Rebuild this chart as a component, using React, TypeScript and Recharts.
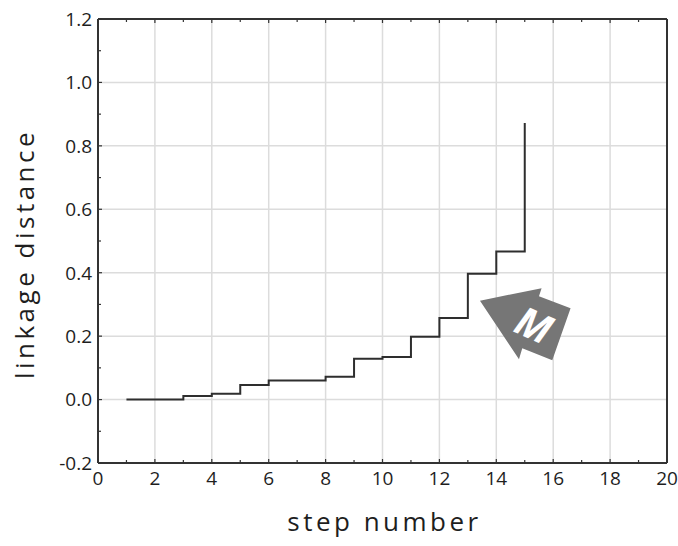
import { LineChart, Line, XAxis, YAxis, ReferenceLine, ReferenceDot } from 'recharts';

// step number vs. linkage distance
const steps = [1, 2, 3, 4, 5, 6, 7, 8, 9, 10, 11, 12, 13, 14, 15];
const distances = [0.0, 0.0, 0.011, 0.018, 0.046, 0.06, 0.06, 0.072, 0.129, 0.134, 0.198, 0.257, 0.397, 0.467, 0.872];

const xTicks = [0, 1, 2, 3, 4, 5, 6, 7, 8, 9, 10, 11, 12, 13, 14, 15, 16, 17, 18, 19, 20];
const xMajor = [0, 2, 4, 6, 8, 10, 12, 14, 16, 18, 20];
const yTicks = [-0.2, -0.1, 0, 0.1, 0.2, 0.3, 0.4, 0.5, 0.6, 0.7, 0.8, 0.9, 1.0, 1.1, 1.2];
const yMajor = [-0.2, 0, 0.2, 0.4, 0.6, 0.8, 1.0, 1.2];

const data = steps.map((s, i) => ({ step: s, dist: distances[i] }));

const FRAME = '#333333';
const GRID = '#dcdcdc';
const TEXT = '#1e1e1e';
const FONT = '"Open Sans", sans-serif';
const TS = 3; // tick size (offset only, ticks are drawn inward by hand)
const TM = 3;

const isMajorX = (v: number) => v % 2 === 0;
const isMajorY = (v: number) => Math.round(v * 10) % 2 === 0;

const LeftTick = (p: any) => {
  const v = p.payload.value;
  const ax = p.x + TS + TM;
  const major = isMajorY(v);
  return (
    <g>
      <line x1={ax} x2={ax + (major ? 4 : 3)} y1={p.y} y2={p.y} stroke={FRAME} strokeWidth={1.2} />
      {major && (
        <text x={p.x} y={p.y} dy="0.36em" textAnchor="end" fontSize={19} fontFamily={FONT} fill={TEXT}>
          {v.toFixed(1)}
        </text>
      )}
    </g>
  );
};

const RightTick = (p: any) => {
  const v = p.payload.value;
  const ax = p.x - TS - TM;
  return <line x1={ax} x2={ax - (isMajorY(v) ? 4 : 3)} y1={p.y} y2={p.y} stroke={FRAME} strokeWidth={1.2} />;
};

const BottomTick = (p: any) => {
  const v = p.payload.value;
  const ay = p.y - TS - TM;
  const major = isMajorX(v);
  return (
    <g>
      <line x1={p.x} x2={p.x} y1={ay} y2={ay - (major ? 4 : 3)} stroke={FRAME} strokeWidth={1.2} />
      {major && (
        <text x={p.x} y={p.y} dy="0.85em" textAnchor="middle" fontSize={19} fontFamily={FONT} fill={TEXT}>
          {v}
        </text>
      )}
    </g>
  );
};

const TopTick = (p: any) => {
  const v = p.payload.value;
  const ay = p.y + TS + TM;
  return <line x1={p.x} x2={p.x} y1={ay} y2={ay + (isMajorX(v) ? 4 : 3)} stroke={FRAME} strokeWidth={1.2} />;
};

// the grey "M" arrow badge
const MArrow = (p: any) => {
  const { cx, cy } = p;
  const pts = [
    [-59, -35.5], [2.6, -48], [0, -40], [31.6, -28], [13.3, 24], [-16.7, 12], [-20, 23],
  ].map(([dx, dy]) => `${cx + dx},${cy + dy}`).join(' ');
  const tx = cx - 5;
  const ty = cy - 11;
  return (
    <g>
      <polygon points={pts} fill="#767676" />
      <text
        x={tx}
        y={ty}
        dy="0.36em"
        textAnchor="middle"
        fontSize={40}
        fontStyle="italic"
        fontWeight="bold"
        fontFamily={FONT}
        fill="#ffffff"
        transform={`rotate(24 ${tx} ${ty})`}
      >
        M
      </text>
    </g>
  );
};

export default function App() {
  return (
    <div style={{ width: 678, height: 546, background: '#fff' }}>
      <style>{`body{margin:0}`}</style>
      <LineChart width={678} height={546} data={data} margin={{ top: 0, right: 0, left: 0, bottom: 0 }}>
        <XAxis
          dataKey="step"
          type="number"
          domain={[0, 20]}
          ticks={xTicks}
          interval={0}
          height={83}
          tickSize={TS}
          tickMargin={TM}
          tickLine={false}
          axisLine={{ stroke: FRAME, strokeWidth: 2 }}
          tick={<BottomTick />}
          label={{
            content: (props: any) => {
              const vb = props.viewBox;
              return (
                <text
                  x={vb.x + vb.width / 2 + 2}
                  y={vb.y + 68}
                  textAnchor="middle"
                  fontSize={26}
                  letterSpacing={3.5}
                  fontFamily={FONT}
                  fill={TEXT}
                >
                  step number
                </text>
              );
            },
          }}
        />
        <XAxis
          xAxisId="top"
          orientation="top"
          dataKey="step"
          type="number"
          domain={[0, 20]}
          ticks={xTicks}
          interval={0}
          height={19}
          tickSize={TS}
          tickMargin={TM}
          tickLine={false}
          axisLine={{ stroke: FRAME, strokeWidth: 2 }}
          tick={<TopTick />}
        />
        <YAxis
          type="number"
          domain={[-0.2, 1.2]}
          ticks={yTicks}
          interval={0}
          width={98}
          tickSize={TS}
          tickMargin={TM}
          tickLine={false}
          axisLine={{ stroke: FRAME, strokeWidth: 2 }}
          tick={<LeftTick />}
          label={{
            content: (props: any) => {
              const vb = props.viewBox;
              const x = vb.x + 25;
              const y = vb.y + vb.height / 2 + 13;
              return (
                <text
                  x={x}
                  y={y}
                  dy="0.35em"
                  textAnchor="middle"
                  fontSize={26}
                  letterSpacing={3.5}
                  fontFamily={FONT}
                  fill={TEXT}
                  transform={`rotate(-90 ${x} ${y})`}
                >
                  linkage distance
                </text>
              );
            },
          }}
        />
        <YAxis
          yAxisId="right"
          orientation="right"
          type="number"
          domain={[-0.2, 1.2]}
          ticks={yTicks}
          interval={0}
          width={11}
          tickSize={TS}
          tickMargin={TM}
          tickLine={false}
          axisLine={{ stroke: FRAME, strokeWidth: 2 }}
          tick={<RightTick />}
        />
        {xMajor.slice(1, -1).map((v) => (
          <ReferenceLine key={`gx${v}`} x={v} stroke={GRID} strokeWidth={1.5} />
        ))}
        {yMajor.slice(1, -1).map((v) => (
          <ReferenceLine key={`gy${v}`} y={v} stroke={GRID} strokeWidth={1.5} />
        ))}
        <Line
          type="stepAfter"
          dataKey="dist"
          stroke="#2e2e2e"
          strokeWidth={2}
          dot={false}
          isAnimationActive={false}
        />
        <ReferenceDot x={15.5} y={0.2} r={0} shape={<MArrow />} />
      </LineChart>
    </div>
  );
}
